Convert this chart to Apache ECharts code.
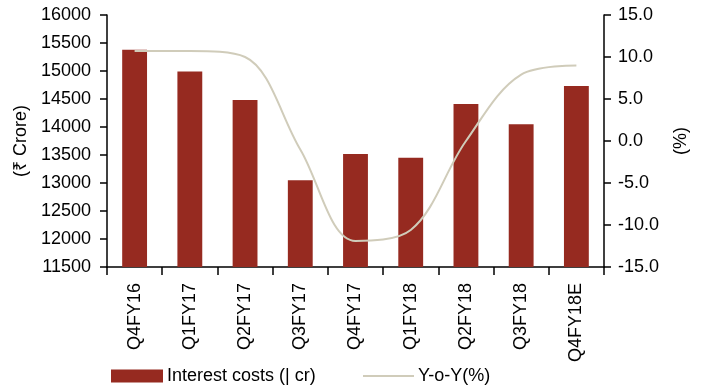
<!DOCTYPE html>
<html>
<head>
<meta charset="utf-8">
<script src="https://cdn.jsdelivr.net/npm/echarts@6/dist/echarts.min.js"></script>
<style>
  html, body { margin: 0; padding: 0; background: #fff; }
  #chart { width: 701px; height: 387px; }
</style>
</head>
<body>
<div id="chart"></div>
<script>
// Quarterly interest costs with year-on-year growth
const quarters = ['Q4FY16', 'Q1FY17', 'Q2FY17', 'Q3FY17', 'Q4FY17', 'Q1FY18', 'Q2FY18', 'Q3FY18', 'Q4FY18E'];
const interestCosts = [15380, 14990, 14480, 13050, 13520, 13450, 14410, 14050, 14730];
const yoyGrowth = [10.7, 10.7, 10.0, -1.0, -11.9, -10.6, 0.0, 7.9, 9.0];

const costTicks = { min: 11500, max: 16000, interval: 500 };
const yoyTicks = { min: -15, max: 15, interval: 5 };

const FONT = '"Liberation Sans", Arial, sans-serif';
const BAR_COLOR = '#962A20';
const LINE_COLOR = '#D0CCBA';

const axisText = { color: '#000', fontFamily: FONT, fontSize: 18 };
const axisLine = { show: true, onZero: false, lineStyle: { color: '#000', width: 1.5 } };
const legendText = { color: '#000', fontFamily: FONT, fontSize: 18, padding: [0, 0, 0, -1] };

const chart = echarts.init(document.getElementById('chart'), null, { renderer: 'canvas' });

chart.setOption({
  animation: false,
  backgroundColor: '#fff',
  grid: { left: 107, right: 97, top: 15, bottom: 120 },
  legend: [
    {
      left: 106, top: 362,
      itemWidth: 52, itemHeight: 13,
      textStyle: legendText,
      data: [{ name: 'Interest costs (| cr)', icon: 'rect' }]
    },
    {
      left: 358, top: 362,
      itemWidth: 51, itemHeight: 2,
      textStyle: legendText,
      data: [{ name: 'Y-o-Y(%)', icon: 'rect' }]
    }
  ],
  xAxis: {
    type: 'category',
    data: quarters,
    axisLine: axisLine,
    axisTick: { show: true, inside: false, length: 8, lineStyle: { color: '#000', width: 1.5 } },
    axisLabel: Object.assign({ rotate: 90, margin: 16, interval: 0 }, axisText),
    splitLine: { show: false }
  },
  yAxis: [
    {
      type: 'value',
      min: costTicks.min, max: costTicks.max, interval: costTicks.interval,
      name: '(₹ Crore)',
      nameLocation: 'middle',
      nameGap: 68,
      nameRotate: 90,
      nameTextStyle: axisText,
      axisLine: axisLine,
      axisTick: { show: true, length: 7, lineStyle: { color: '#000', width: 1.5 } },
      axisLabel: Object.assign({ margin: 16, formatter: v => String(v) }, axisText),
      splitLine: { show: false }
    },
    {
      type: 'value',
      min: yoyTicks.min, max: yoyTicks.max, interval: yoyTicks.interval,
      name: '(%)',
      nameLocation: 'middle',
      nameGap: 68,
      nameRotate: 90,
      nameTextStyle: axisText,
      position: 'right',
      axisLine: axisLine,
      axisTick: { show: true, length: 7, lineStyle: { color: '#000', width: 1.5 } },
      axisLabel: Object.assign({ margin: 14, formatter: v => v.toFixed(1) }, axisText),
      splitLine: { show: false }
    }
  ],
  series: [
    {
      name: 'Interest costs (| cr)',
      type: 'bar',
      yAxisIndex: 0,
      data: interestCosts,
      barWidth: '45%',
      itemStyle: { color: BAR_COLOR }
    },
    {
      name: 'Y-o-Y(%)',
      type: 'line',
      yAxisIndex: 1,
      data: yoyGrowth,
      smooth: 0.35,
      symbol: 'none',
      lineStyle: { color: LINE_COLOR, width: 2 },
      itemStyle: { color: LINE_COLOR }
    }
  ]
});
</script>
</body>
</html>
